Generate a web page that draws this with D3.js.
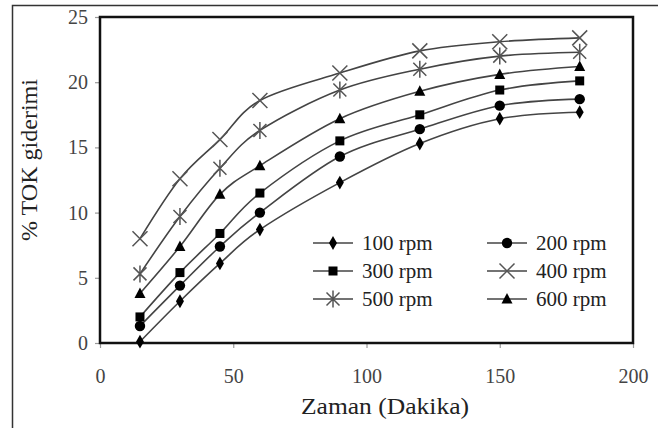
<!DOCTYPE html>
<html>
<head>
<meta charset="utf-8">
<script src="https://cdn.jsdelivr.net/npm/d3@7"></script>
<style>
  body { margin: 0; background: #fff; }
  svg { display: block; font-family: "Liberation Serif", "Times New Roman", serif; }
</style>
</head>
<body>
<div id="chart"></div>
<script>
// time points (minutes)
const times = [15, 30, 45, 60, 90, 120, 150, 180];

// % TOK removal per stirring speed
const rpm100 = [0.1, 3.2, 6.1, 8.7, 12.3, 15.3, 17.2, 17.7];
const rpm200 = [1.3, 4.4, 7.4, 10.0, 14.3, 16.4, 18.2, 18.7];
const rpm300 = [2.0, 5.4, 8.4, 11.5, 15.5, 17.5, 19.4, 20.1];
const rpm400 = [8.0, 12.6, 15.6, 18.6, 20.7, 22.4, 23.1, 23.4];
const rpm500 = [5.3, 9.7, 13.4, 16.3, 19.4, 21.0, 22.0, 22.3];
const rpm600 = [3.8, 7.4, 11.4, 13.6, 17.2, 19.3, 20.6, 21.2];

const seriesNames = ['100 rpm', '200 rpm', '300 rpm', '400 rpm', '500 rpm', '600 rpm'];
const xTicks = [0, 50, 100, 150, 200];
const yTicks = [0, 5, 10, 15, 20, 25];

const series = [
    { name: seriesNames[0], values: rpm100, marker: 'diamond' },
    { name: seriesNames[1], values: rpm200, marker: 'circle' },
    { name: seriesNames[2], values: rpm300, marker: 'square' },
    { name: seriesNames[3], values: rpm400, marker: 'x' },
    { name: seriesNames[4], values: rpm500, marker: 'star' },
    { name: seriesNames[5], values: rpm600, marker: 'triangle' }
];

const svgWidth = 664, svgHeight = 428;
const margin = { top: 17, right: 31, bottom: 85, left: 100 };
const width = svgWidth - margin.left - margin.right;
const height = svgHeight - margin.top - margin.bottom;

const root = d3.select('#chart')
    .append('svg')
    .attr('width', svgWidth)
    .attr('height', svgHeight);

// outer frame (left + top only visible)
root.append('path')
    .attr('d', 'M12.5,428 V5.5 H658')
    .attr('fill', 'none')
    .attr('stroke', '#333')
    .attr('stroke-width', 1.5);

const svg = root.append('g')
    .attr('transform', 'translate(' + margin.left + ',' + margin.top + ')');

const x = d3.scaleLinear().domain([0, 200]).range([0, width]);
const y = d3.scaleLinear().domain([0, 25]).range([height, 0]);

// axes: outside gray ticks
const xAxis = svg.append('g')
    .attr('transform', 'translate(0,' + height + ')')
    .call(d3.axisBottom(x).tickValues(xTicks).tickSize(5).tickPadding(21));
const yAxis = svg.append('g')
    .call(d3.axisLeft(y).tickValues(yTicks).tickSize(5).tickPadding(7));

[xAxis, yAxis].forEach(a => {
    a.attr('font-family', null);
    a.select('.domain').remove();
    a.selectAll('line').attr('stroke', '#999').attr('stroke-width', 1.2);
    a.selectAll('text')
        .attr('fill', '#444')
        .style('font-family', '"Liberation Serif", serif')
        .style('font-size', '20px');
});

// plot box
svg.append('rect')
    .attr('x', 0).attr('y', 0)
    .attr('width', width).attr('height', height)
    .attr('fill', 'none')
    .attr('stroke', '#111')
    .attr('stroke-width', 2.5);

const line = d3.line()
    .x((d, i) => x(times[i]))
    .y(d => y(d))
    .curve(d3.curveCardinal.tension(0));

function drawMarker(g, type) {
    if (type === 'diamond') {
        g.append('path').attr('d', d3.symbol(d3.symbolDiamond, 55)).attr('fill', '#000');
    } else if (type === 'circle') {
        g.append('circle').attr('r', 5.2).attr('fill', '#000');
    } else if (type === 'square') {
        g.append('rect').attr('x', -4.5).attr('y', -4.5).attr('width', 9).attr('height', 9).attr('fill', '#000');
    } else if (type === 'triangle') {
        g.append('path').attr('d', 'M0,-6 L5.5,4.5 L-5.5,4.5 Z').attr('fill', '#000');
    } else if (type === 'x') {
        g.append('path').attr('d', 'M-7.5,-7.5 L7.5,7.5 M-7.5,7.5 L7.5,-7.5')
            .attr('stroke', '#555').attr('stroke-width', 1.5).attr('fill', 'none');
    } else if (type === 'star') {
        g.append('path').attr('d', 'M-6.5,-6.5 L6.5,6.5 M-6.5,6.5 L6.5,-6.5 M0,-8.5 L0,8.5')
            .attr('stroke', '#555').attr('stroke-width', 1.5).attr('fill', 'none');
    }
}

series.forEach(s => {
    svg.append('path')
        .datum(s.values)
        .attr('d', line)
        .attr('fill', 'none')
        .attr('stroke', '#444')
        .attr('stroke-width', 1.6);

    s.values.forEach((v, i) => {
        const g = svg.append('g')
            .attr('transform', 'translate(' + x(times[i]) + ',' + y(v) + ')');
        drawMarker(g, s.marker);
    });
});

// legend, two columns
const legend = root.append('g');
series.forEach((s, i) => {
    const col = i % 2, row = Math.floor(i / 2);
    const lx = col === 0 ? 313 : 487;
    const ly = 243 + row * 28;
    const g = legend.append('g').attr('transform', 'translate(' + lx + ',' + ly + ')');
    g.append('line').attr('x1', 0).attr('x2', 40).attr('y1', 0).attr('y2', 0)
        .attr('stroke', '#444').attr('stroke-width', 1.6);
    const m = g.append('g').attr('transform', 'translate(20,0)');
    drawMarker(m, s.marker);
    g.append('text')
        .attr('x', 49).attr('y', 7)
        .attr('fill', '#222')
        .style('font-size', '21px')
        .text(s.name);
});

// axis titles
root.append('text')
    .attr('x', 385).attr('y', 414)
    .attr('text-anchor', 'middle')
    .attr('fill', '#222')
    .attr('textLength', 168)
    .attr('lengthAdjust', 'spacingAndGlyphs')
    .style('font-size', '23px')
    .text('Zaman (Dakika)');

root.append('text')
    .attr('transform', 'translate(37,160) rotate(-90)')
    .attr('text-anchor', 'middle')
    .attr('fill', '#222')
    .attr('textLength', 162)
    .attr('lengthAdjust', 'spacingAndGlyphs')
    .style('font-size', '23px')
    .text('% TOK  giderimi');
</script>
</body>
</html>
